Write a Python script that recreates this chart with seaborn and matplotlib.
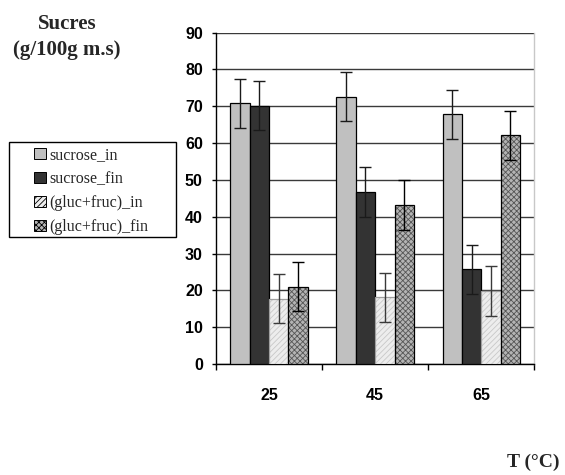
import matplotlib
matplotlib.use("Agg")
import matplotlib.pyplot as plt
import matplotlib.patches as mpatches
from matplotlib.colors import to_rgba
import seaborn as sns
import pandas as pd

# Temperatures (°C) and series
temperatures = ["25", "45", "65"]
series = ["sucrose_in", "sucrose_fin", "(gluc+fruc)_in", "(gluc+fruc)_fin"]

# Sugar content (g/100g dry matter) per series, one value per temperature
sucrose_in = [70.8, 72.6, 67.8]
sucrose_fin = [70.2, 46.7, 25.7]
glucfruc_in = [17.7, 18.1, 19.8]
glucfruc_fin = [21.0, 43.2, 62.1]

# Standard deviations
sucrose_in_err = [6.7, 6.7, 6.7]
sucrose_fin_err = [6.7, 6.7, 6.7]
glucfruc_in_err = [6.7, 6.7, 6.7]
glucfruc_fin_err = [6.7, 6.7, 6.7]

y_ticks = [0, 10, 20, 30, 40, 50, 60, 70, 80, 90]

values = [sucrose_in, sucrose_fin, glucfruc_in, glucfruc_fin]
errors = [sucrose_in_err, sucrose_fin_err, glucfruc_in_err, glucfruc_fin_err]

df = pd.DataFrame(
    [(t, s, v) for s, vals in zip(series, values) for t, v in zip(temperatures, vals)],
    columns=["T", "serie", "valeur"],
)

# fill, hatch, hatch colour, outline colour, error bar colour
styles = {
    "sucrose_in": ("#C0C0C0", "", None, "#000000", "#1A1A1A"),
    "sucrose_fin": ("#333333", "", None, "#000000", "#1A1A1A"),
    "(gluc+fruc)_in": ("#EDEDED", "//////", "#C8C8C8", "#A0A0A0", "#3A3A3A"),
    "(gluc+fruc)_fin": ("#B4B4B4", "xxxxxx", "#555555", "#000000", "#000000"),
}

sns.set_theme(style="white")
plt.rcParams["hatch.linewidth"] = 0.6

fig = plt.figure(figsize=(5.65, 4.75), dpi=100)
ax = fig.add_axes([0.3823, 0.2337, 0.9457 - 0.3823, 0.9312 - 0.2337])

sns.barplot(
    data=df, x="T", y="valeur", hue="serie", order=temperatures, hue_order=series,
    palette=[styles[s][0] for s in series], saturation=1, width=0.73,
    errorbar=None, legend=False, ax=ax, zorder=3,
)

for cont, s, errs in zip(ax.containers, series, errors):
    face, hatch, hcol, ecol, errcol = styles[s]
    xs, hs = [], []
    for p in cont.patches:
        p.set_edgecolor(ecol)
        p.set_linewidth(0.9)
        if hatch:
            p.set_hatch(hatch)
            p._hatch_color = to_rgba(hcol)
        xs.append(p.get_x() + p.get_width() / 2)
        hs.append(p.get_height())
    ax.errorbar(xs, hs, yerr=errs, fmt="none", ecolor=errcol,
                elinewidth=1.0, capsize=4.3, capthick=1.0, zorder=4)

ax.set_ylim(0, 90)
ax.set_xlim(-0.5, 2.5)
ax.set_yticks(y_ticks)
ax.set_yticklabels([str(v) for v in y_ticks])
ax.set_xlabel("")
ax.set_ylabel("")

for lab in ax.get_yticklabels() + ax.get_xticklabels():
    lab.set_fontfamily("Liberation Sans")
    lab.set_fontweight("bold")
    lab.set_fontsize(11.5)
    lab.set_color("black")

ax.yaxis.grid(True, color="#3A3A3A", linewidth=1.0, zorder=0)
ax.set_axisbelow(True)
ax.tick_params(axis="y", which="major", direction="out", length=3, width=1,
               color="black", left=True, pad=6.5)
ax.tick_params(axis="x", which="major", length=0, pad=17)
ax.set_xticks([-0.5, 0.5, 1.5, 2.5], minor=True)
ax.tick_params(axis="x", which="minor", direction="out", length=4, width=1,
               color="black", bottom=True)

ax.spines["top"].set_visible(False)
ax.spines["left"].set_color("black")
ax.spines["left"].set_linewidth(1.0)
ax.spines["bottom"].set_color("black")
ax.spines["bottom"].set_linewidth(1.0)
ax.spines["right"].set_color("#C8C8C8")
ax.spines["right"].set_linewidth(1.0)

# Legend with a plain rectangular frame
handles = []
for s in series:
    face, hatch, hcol, ecol, errcol = styles[s]
    h = mpatches.Patch(facecolor=face, edgecolor=hcol if hatch else "#000000",
                       hatch=hatch, linewidth=0.8, label=s)
    handles.append(h)
leg = fig.legend(handles=handles, loc="upper left",
                 bbox_to_anchor=(34 / 565, 1 - 147 / 475),
                 frameon=False, prop=dict(family="Liberation Serif", size=11.5),
                 handlelength=0.75, handleheight=0.75, handletextpad=0.2,
                 labelspacing=0.5, borderpad=0, borderaxespad=0)
for h in leg.legend_handles:
    h.set_edgecolor("#000000")
    h.set_linewidth(0.7)
fig.patches.append(mpatches.Rectangle(
    (9 / 565, 1 - 237.3 / 475), (175.7 - 9) / 565, (237.3 - 141.7) / 475,
    transform=fig.transFigure, fill=False, edgecolor="black", linewidth=1.0))

fig.text(67 / 565, 1 - 37 / 475, "Sucres\n(g/100g m.s)", ha="center", va="center",
         family="Liberation Serif", weight="bold", size=15, linespacing=1.45)
fig.text(533 / 565, 1 - 462 / 475, "T (°C)", ha="center", va="center",
         family="Liberation Serif", weight="bold", size=14)

fig.savefig("out.png", dpi=100)
